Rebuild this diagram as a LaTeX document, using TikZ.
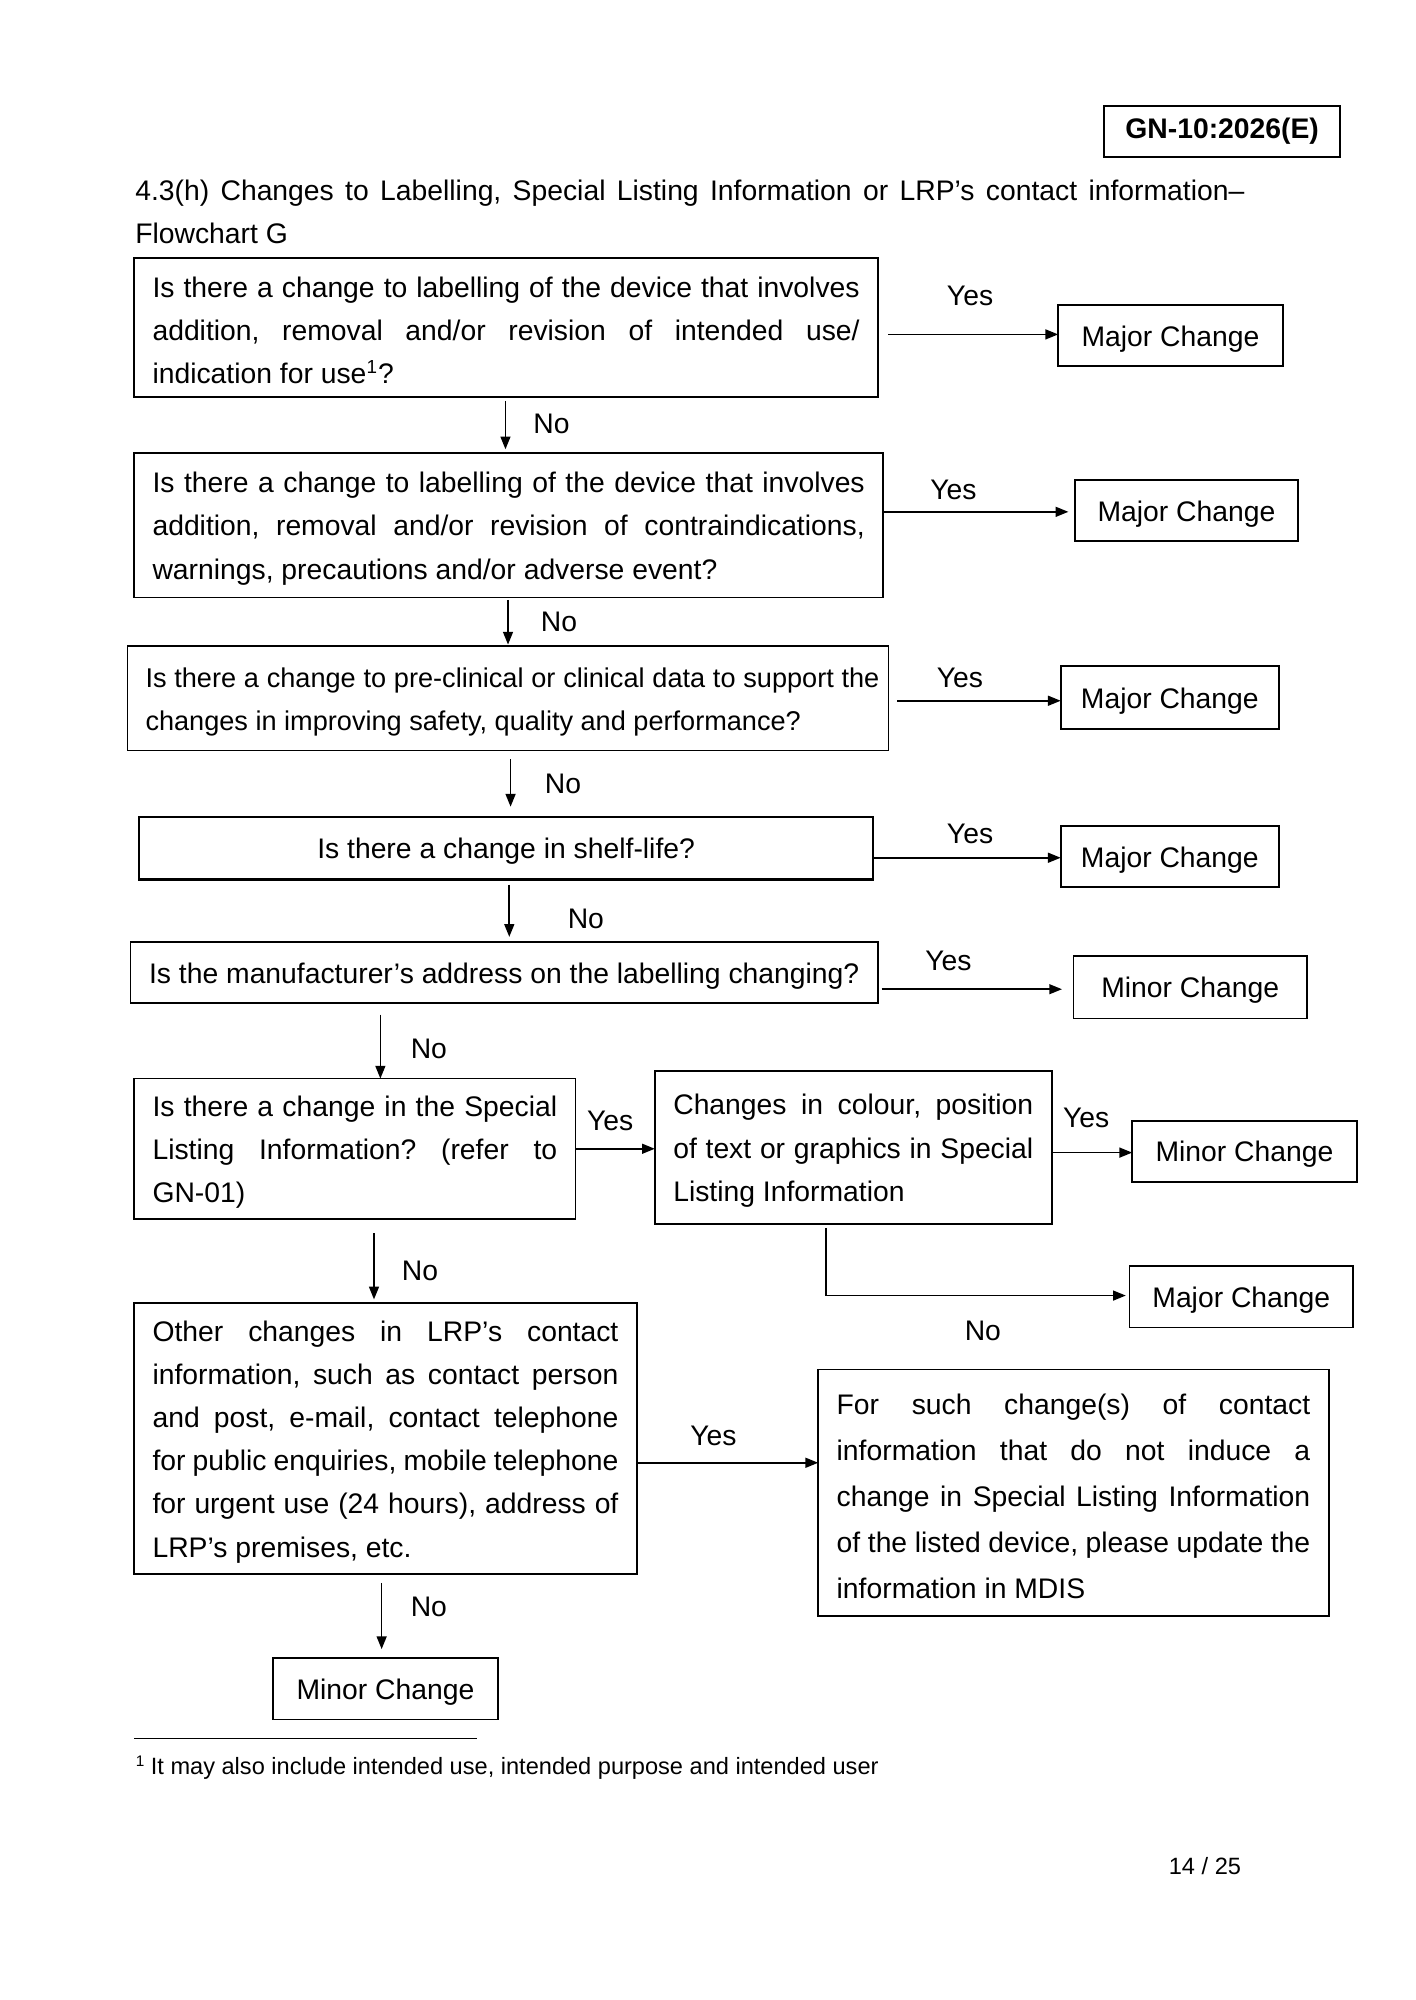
\documentclass[tikz,border=0pt]{standalone}
\usepackage{fontspec}
\setmainfont{Liberation Sans}
\usetikzlibrary{arrows.meta}
\newlength\pu
\setlength\pu{0.54116pt}
\newcommand\firstup{\rule{0pt}{11.5pt}}
\frenchspacing
\begin{document}
\frenchspacing
\begin{tikzpicture}[x=0.54116pt,y=-0.54116pt,
  base/.style={draw, line width=0.7pt, inner ysep=0pt, inner xsep=14.5\pu, outer sep=0pt,
               font=\fontsize{12pt}{18.3pt}\selectfont\frenchspacing},
  qbox/.style={base, align=justify},
  onel/.style={base, text height=11.5pt},
  resbox/.style={base, inner xsep=0pt, minimum height=48\pu, text height=11.5pt},
  lab/.style={inner sep=0pt, font=\fontsize{12pt}{14pt}\selectfont},
  arr/.style={line width=0.7pt, -{Triangle[length=5.4pt,width=4.2pt]}}
]
\useasboundingbox (0,0) rectangle (1108.6,1566.9);

% header
\node[base, inner xsep=0pt, minimum width=185\pu, minimum height=40\pu, font=\fontsize{12pt}{14pt}\selectfont\bfseries] (gn) at (957.5,103) {GN-10:2026(E)};
\node[inner sep=0pt, text width=869\pu, align=justify, font=\fontsize{12pt}{17.9pt}\selectfont\frenchspacing] (title) at (540.5,166)
  {4.3(h) Changes to Labelling, Special Listing Information or LRP’s contact information–\linebreak Flowchart G};

% question boxes
\node[qbox, text width=554\pu, minimum height=109\pu] (b1) at (396.5,256.5)
  {\firstup Is there a change to labelling of the device that involves\linebreak addition, removal and/or revision of intended use/\linebreak indication for use\textsuperscript{1}?};
\node[qbox, text width=558\pu, minimum height=113\pu] (b2) at (398.5,411.5)
  {\firstup Is there a change to labelling of the device that involves\linebreak addition, removal and/or revision of contraindications,\linebreak warnings, precautions and/or adverse event?};
\node[base, inner xsep=10.5\pu, minimum width=596\pu, minimum height=82\pu, font=\fontsize{11.5pt}{18.3pt}\selectfont\frenchspacing] (b3) at (398,547)
  {\hspace*{3.5\pu}\parbox[c]{575\pu}{\frenchspacing\firstup Is there a change to pre-clinical or clinical data to support the\linebreak changes in improving safety, quality and performance?}\hspace*{-3.5\pu}};
\node[onel, line width=1.1pt, minimum width=575\pu, minimum height=49\pu] (b4) at (396.5,664.5)
  {Is there a change in shelf-life?};
\node[onel, minimum width=580\pu, minimum height=48\pu] (b5) at (395,762)
  {Is the manufacturer’s address on the labelling changing?};
\node[qbox, text width=317\pu, minimum height=110\pu] (b6) at (278,900)
  {\firstup Is there a change in the Special\linebreak Listing Information? (refer to\linebreak GN-01)};
\node[qbox, text width=282\pu, minimum height=120\pu] (b7) at (668.5,899)
  {\firstup Changes in colour, position\linebreak of text or graphics in Special\linebreak Listing Information};
\node[qbox, text width=365\pu, minimum height=212\pu] (b8) at (302,1127)
  {\firstup Other changes in LRP’s contact\linebreak information, such as contact person\linebreak and post, e-mail, contact telephone\linebreak for public enquiries, mobile telephone\linebreak for urgent use (24 hours), address of\linebreak LRP’s premises, etc.};
\node[qbox, text width=371\pu, minimum height=193\pu, font=\fontsize{12pt}{19.5pt}\selectfont\frenchspacing] (b9) at (841,1169.5)
  {\firstup For such change(s) of contact\linebreak information that do not induce a\linebreak change in Special Listing Information\linebreak of the listed device, please update the\linebreak information in MDIS};

% result boxes
\node[resbox, minimum width=176\pu] (m1) at (917,263) {Major Change};
\node[resbox, minimum width=175\pu] (m2) at (929.5,400) {Major Change};
\node[resbox, minimum width=171\pu, minimum height=49\pu] (m3) at (916.5,546.5) {Major Change};
\node[resbox, minimum width=171\pu] (m4) at (916.5,671) {Major Change};
\node[resbox, minimum width=183\pu, minimum height=49\pu] (mi1) at (932.5,773.5) {Minor Change};
\node[resbox, minimum width=176\pu] (mi2) at (975,902) {Minor Change};
\node[resbox, minimum width=175\pu] (m5) at (972.5,1016) {Major Change};
\node[resbox, minimum width=176\pu] (mi3) at (302,1323) {Minor Change};

% labels
\node[lab] (y1) at (760,232) {Yes};
\node[lab] (y2) at (747,384) {Yes};
\node[lab] (y3) at (752,531) {Yes};
\node[lab] (y4) at (760,653) {Yes};
\node[lab] (y5) at (743,753) {Yes};
\node[lab] (y6) at (478,878) {Yes};
\node[lab] (y7) at (851,876) {Yes};
\node[lab] (y8) at (559,1125) {Yes};
\node[lab] (n1) at (432,332) {No};
\node[lab] (n2) at (438,487) {No};
\node[lab] (n3) at (441,614) {No};
\node[lab] (n4) at (459,720) {No};
\node[lab] (n5) at (336,822) {No};
\node[lab] (n6) at (329,996) {No};
\node[lab] (n7) at (770,1043) {No};
\node[lab] (n8) at (336,1259) {No};

% yes connectors
\draw[arr, shorten <=8\pu] (b1.east |- 0,262) -- (m1.west |- 0,262);
\draw[arr, shorten >=5\pu] (b2.east |- 0,401) -- (m2.west |- 0,401);
\draw[arr, shorten <=7\pu] (b3.east |- 0,549) -- (m3.west |- 0,549);
\draw[arr] (b4.east |- 0,672) -- (m4.west |- 0,672);
\draw[arr, shorten <=3\pu, shorten >=9\pu] (b5.east |- 0,775) -- (mi1.west |- 0,775);
\draw[arr] (b6.east |- 0,900) -- (b7.west |- 0,900);
\draw[arr] (b7.east |- 0,903) -- (mi2.west |- 0,903);
\coordinate (c7) at (647,1015);
\draw[arr, shorten >=3\pu] ([yshift=-3\pu]b7.south -| c7) -- (c7) -- (m5.west |- c7);
\draw[arr] (b8.east |- 0,1146) -- (b9.west |- 0,1146);

% no connectors
\draw[arr, shorten <=3\pu, shorten >=3\pu] (396,0 |- b1.south) -- (396,0 |- b2.north);
\draw[arr, shorten <=2\pu, shorten >=1\pu] (398,0 |- b2.south) -- (398,0 |- b3.north);
\draw[arr, shorten <=7\pu, shorten >=8\pu] (400,0 |- b3.south) -- (400,0 |- b4.north);
\draw[arr, shorten <=4\pu, shorten >=4\pu] (399,0 |- b4.south) -- (399,0 |- b5.north);
\draw[arr, shorten <=9\pu] (298,0 |- b5.south) -- (298,0 |- b6.north);
\draw[arr, shorten <=11\pu, shorten >=3\pu] (293,0 |- b6.south) -- (293,0 |- b8.north);
\draw[arr, shorten <=7\pu, shorten >=7\pu] (299,0 |- b8.south) -- (299,0 |- mi3.north);

% footnote and page number
\draw[line width=0.8pt] (105,1362) -- (374,1362);
\node[inner sep=0pt, anchor=west, font=\fontsize{10pt}{12pt}\selectfont] (fn) at (106,1385)
  {\raisebox{0.35em}{\fontsize{6.5pt}{7pt}\selectfont 1} It may also include intended use, intended purpose and intended user};
\node[inner sep=0pt, font=\fontsize{10pt}{12pt}\selectfont] (pg) at (944,1462) {14 / 25};
\end{tikzpicture}
\end{document}
